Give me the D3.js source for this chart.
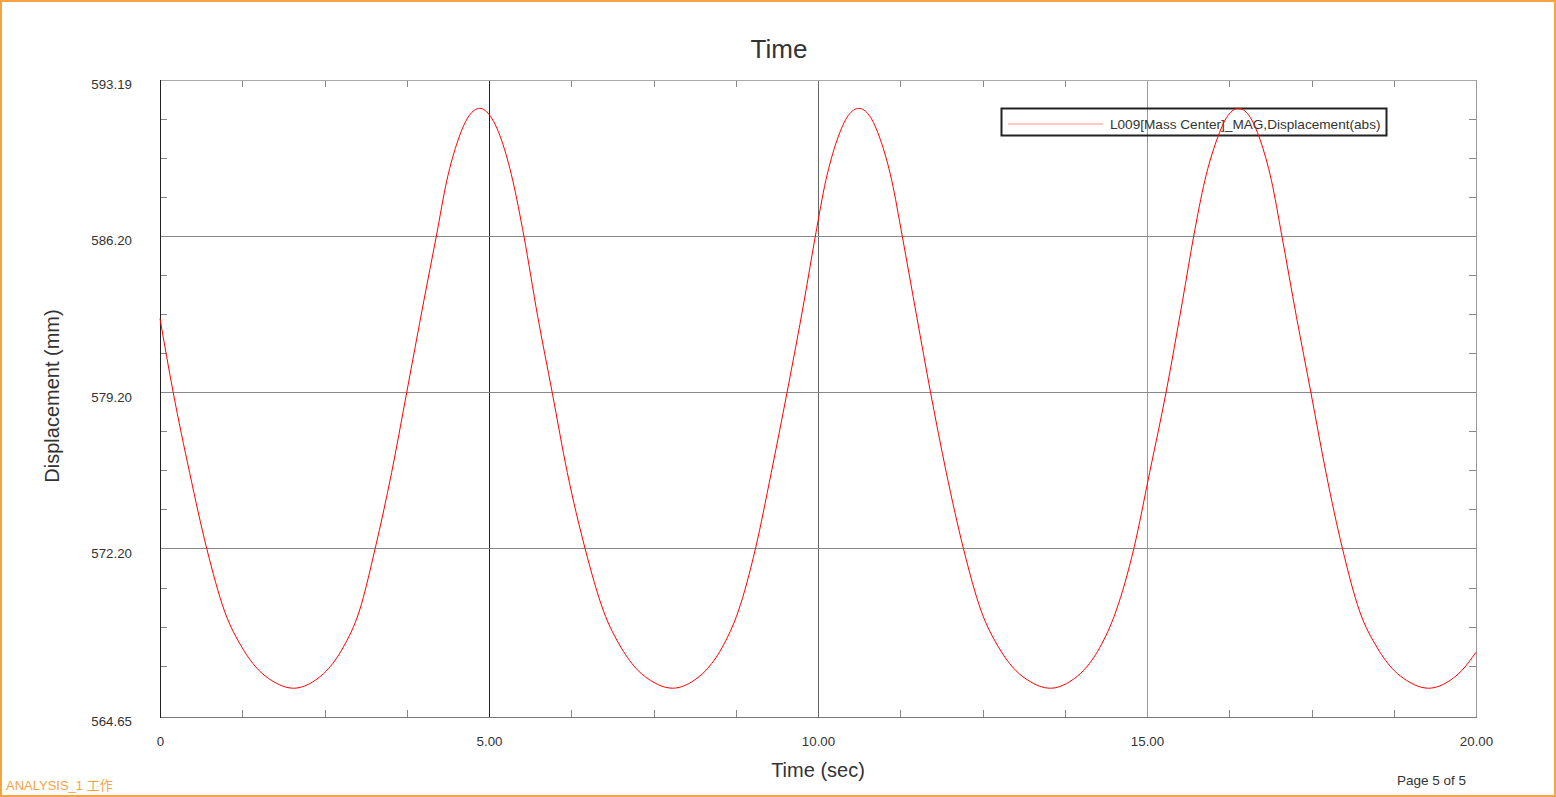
<!DOCTYPE html>
<html>
<head>
<meta charset="utf-8">
<script src="https://cdn.jsdelivr.net/npm/d3@7"></script>
<style>
  body { margin: 0; background: #fff; }
  svg { display: block; font-family: "Liberation Sans", Arial, sans-serif; }
</style>
</head>
<body>
<script>
var width = 1556,
    height = 797;

// values
var times = [0, 0.20, 0.45, 0.71, 0.98, 1.25, 1.51, 1.69, 2.03,
  2.36, 2.53, 2.78, 3.03, 3.27, 3.52, 3.75, 4.01, 4.20, 4.36, 4.53, 4.70, 4.86,
  5.00, 5.19, 5.36, 5.53, 5.74, 5.96, 6.19, 6.46, 6.74, 7.01, 7.27, 7.45, 7.79,
  8.12, 8.29, 8.54, 8.79, 9.05, 9.29, 9.53, 9.79, 9.96, 10.12, 10.29, 10.46, 10.62,
  10.78, 10.95, 11.12, 11.28, 11.50, 11.71, 11.95, 12.21, 12.48, 12.75, 13.01, 13.19, 13.53,
  13.86, 14.03, 14.28, 14.53, 14.80, 15.04, 15.29, 15.54, 15.71, 15.88, 16.06, 16.23, 16.39,
  16.55, 16.72, 16.89, 17.05, 17.27, 17.49, 17.72, 17.97, 18.23, 18.50, 18.76, 18.94, 19.28,
  19.61, 19.78, 20.00];
var displacement = [582.5, 579.2, 575.6, 572.2, 569.4, 567.75, 566.72, 566.3, 565.94,
  566.3, 566.72, 567.75, 569.4, 572.2, 575.6, 579.2, 583.3, 586.2, 588.7, 590.5, 591.6, 591.92,
  591.65, 590.5, 588.7, 586.2, 582.6, 579.2, 575.6, 572.2, 569.4, 567.75, 566.72, 566.3, 565.94,
  566.3, 566.72, 567.75, 569.4, 572.2, 575.6, 579.2, 583.3, 586.2, 588.7, 590.5, 591.6, 591.92,
  591.6, 590.5, 588.7, 586.2, 582.6, 579.2, 575.6, 572.2, 569.4, 567.75, 566.72, 566.3, 565.94,
  566.3, 566.72, 567.75, 569.4, 572.2, 575.6, 579.2, 583.3, 586.2, 588.7, 590.5, 591.6, 591.92,
  591.6, 590.5, 588.7, 586.2, 582.6, 579.2, 575.6, 572.2, 569.4, 567.75, 566.72, 566.3, 565.94,
  566.3, 566.72, 567.55];

var xTicks = [0, 5, 10, 15, 20];
var xTickLabels = ["0", "5.00", "10.00", "15.00", "20.00"];
var xMinor = [1.25, 2.5, 3.75, 6.25, 7.5, 8.75, 11.25, 12.5, 13.75, 16.25, 17.5, 18.75];
var yTicks = [564.65, 572.20, 579.20, 586.20, 593.19];
var yGrid = [572.20, 579.20, 586.20];
var yMinor = [566.95, 568.70, 570.45, 573.95, 575.70, 577.45, 580.95, 582.70, 584.45, 587.95, 589.70, 591.45];
var seriesName = "L009[Mass Center]_MAG,Displacement(abs)";

var data = times.map(function(t, i) { return { t: t, v: displacement[i] }; });

var svg = d3.select("body").append("svg")
    .attr("width", width)
    .attr("height", height);

// page frame
svg.append("rect")
    .attr("x", 1).attr("y", 1)
    .attr("width", width - 2).attr("height", height - 2)
    .attr("fill", "none")
    .attr("stroke", "#f4a445")
    .attr("stroke-width", 2);

var x = d3.scaleLinear().domain([0, 20]).range([160, 1476]);
var y = d3.scaleLinear().domain([564.65, 593.19]).range([717, 80]);

var g = svg.append("g").attr("shape-rendering", "crispEdges");

// grid
var vColors = ["#222", "#666", "#999"];
g.selectAll("line.vgrid")
  .data(xTicks.slice(1, -1))
  .enter().append("line")
    .attr("x1", function(d) { return Math.round(x(d)) + 0.5; })
    .attr("x2", function(d) { return Math.round(x(d)) + 0.5; })
    .attr("y1", y.range()[1])
    .attr("y2", y.range()[0])
    .attr("stroke", function(d, i) { return vColors[i]; });

g.selectAll("line.hgrid")
  .data(yGrid)
  .enter().append("line")
    .attr("x1", x.range()[0])
    .attr("x2", x.range()[1])
    .attr("y1", function(d) { return Math.round(y(d)) + 0.5; })
    .attr("y2", function(d) { return Math.round(y(d)) + 0.5; })
    .attr("stroke", "#888");

// minor ticks, inside all four sides
var tk = 7;
xMinor.forEach(function(d) {
  var px = Math.round(x(d)) + 0.5;
  g.append("line").attr("x1", px).attr("x2", px).attr("y1", 80).attr("y2", 80 + tk).attr("stroke", "#888");
  g.append("line").attr("x1", px).attr("x2", px).attr("y1", 717).attr("y2", 717 - tk).attr("stroke", "#888");
});
yMinor.forEach(function(d) {
  var py = Math.round(y(d)) + 0.5;
  g.append("line").attr("x1", 160).attr("x2", 160 + tk).attr("y1", py).attr("y2", py).attr("stroke", "#888");
  g.append("line").attr("x1", 1476).attr("x2", 1476 - tk).attr("y1", py).attr("y2", py).attr("stroke", "#888");
});

// plot frame
g.append("line").attr("x1", 160).attr("x2", 1476).attr("y1", 80.5).attr("y2", 80.5).attr("stroke", "#aaa");
g.append("line").attr("x1", 1476.5).attr("x2", 1476.5).attr("y1", 80).attr("y2", 717).attr("stroke", "#999");
g.append("line").attr("x1", 160).attr("x2", 1477).attr("y1", 717.5).attr("y2", 717.5).attr("stroke", "#777");
g.append("line").attr("x1", 160.5).attr("x2", 160.5).attr("y1", 80).attr("y2", 718).attr("stroke", "#222");

// legend
var lg = svg.append("g");
lg.append("rect")
    .attr("x", 1001.5).attr("y", 108.5)
    .attr("width", 385).attr("height", 27)
    .attr("fill", "none")
    .attr("stroke", "#222")
    .attr("stroke-width", 2);
lg.append("line")
    .attr("x1", 1008).attr("x2", 1103)
    .attr("y1", 124).attr("y2", 124)
    .attr("stroke", "#ffb3b3")
    .attr("stroke-width", 1.5);
lg.append("text")
    .attr("x", 1110).attr("y", 128.5)
    .attr("font-size", 13.6)
    .attr("fill", "#333")
    .text(seriesName);

// curve
var line = d3.line()
    .x(function(d) { return x(d.t); })
    .y(function(d) { return y(d.v); })
    .curve(d3.curveMonotoneX);

svg.append("path")
    .datum(data)
    .attr("d", line)
    .attr("fill", "none")
    .attr("stroke", "#ff0000")
    .attr("stroke-width", 1);

// axes labels
var yAxis = d3.axisLeft(y)
    .tickValues(yTicks)
    .tickFormat(d3.format(".2f"))
    .tickSize(0)
    .tickPadding(28);
var ya = svg.append("g").attr("transform", "translate(160,0)").call(yAxis);
ya.select(".domain").remove();
ya.selectAll("text")
    .attr("font-size", 13.3)
    .attr("font-family", "Liberation Sans, Arial, sans-serif")
    .attr("fill", "#333")
    .attr("dy", "0.66em");

var xAxis = d3.axisBottom(x)
    .tickValues(xTicks)
    .tickFormat(function(d, i) { return xTickLabels[i]; })
    .tickSize(0)
    .tickPadding(20);
var xa = svg.append("g").attr("transform", "translate(0,717)").call(xAxis);
xa.select(".domain").remove();
xa.selectAll("text")
    .attr("font-size", 13.3)
    .attr("font-family", "Liberation Sans, Arial, sans-serif")
    .attr("fill", "#333");

// titles
svg.append("text")
    .attr("x", 779).attr("y", 58)
    .attr("text-anchor", "middle")
    .attr("font-size", 26)
    .attr("fill", "#333")
    .text("Time");

svg.append("text")
    .attr("x", 818).attr("y", 777)
    .attr("text-anchor", "middle")
    .attr("font-size", 20)
    .attr("fill", "#333")
    .text("Time (sec)");

svg.append("text")
    .attr("transform", "translate(59,396)rotate(-90)")
    .attr("text-anchor", "middle")
    .attr("font-size", 20)
    .attr("fill", "#333")
    .text("Displacement (mm)");

svg.append("text")
    .attr("x", 1397).attr("y", 785)
    .attr("font-size", 13.5)
    .attr("fill", "#333")
    .text("Page 5 of 5");

svg.append("text")
    .attr("x", 6).attr("y", 790)
    .attr("font-size", 13)
    .attr("font-family", "Liberation Sans, 'Noto Sans CJK SC', sans-serif")
    .attr("fill", "#f4a445")
    .text("ANALYSIS_1 工作");
</script>
</body>
</html>
